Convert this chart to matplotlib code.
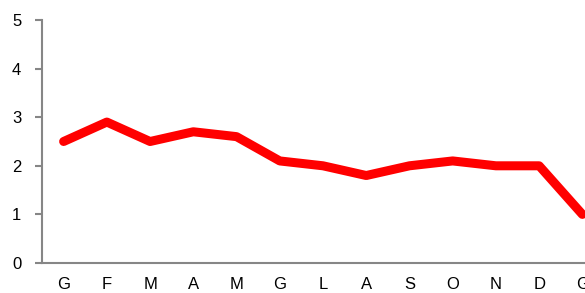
import matplotlib.pyplot as plt

# months (Italian initials), last one is next January
months = ['G', 'F', 'M', 'A', 'M', 'G', 'L', 'A', 'S', 'O', 'N', 'D', 'G']
values = [2.5, 2.9, 2.5, 2.7, 2.6, 2.1, 2.0, 1.8, 2.0, 2.1, 2.0, 2.0, 1.0]
y_ticks = [0, 1, 2, 3, 4, 5]

plt.rcParams['font.family'] = ['Liberation Sans', 'DejaVu Sans']

fig = plt.figure(figsize=(5.85, 2.93), dpi=100)
# chart is cut on the right side, so the axes goes past the figure edge
ax = fig.add_axes([42 / 585, 30 / 293, 562 / 585, 243 / 293])

x = list(range(len(months)))
ax.plot(x, values, color='#ff0000', linewidth=6.5, solid_capstyle='round',
        solid_joinstyle='round', clip_on=False)

ax.set_xlim(-0.5, len(months) - 0.5)
ax.set_ylim(0, 5)
ax.set_yticks(y_ticks)
ax.set_xticks(x)
ax.set_xticklabels(months)

for side in ['top', 'right']:
    ax.spines[side].set_visible(False)
for side in ['left', 'bottom']:
    ax.spines[side].set_color('#868686')
    ax.spines[side].set_linewidth(1.5)

ax.tick_params(axis='y', length=5, width=1.5, color='#868686', labelsize=12, pad=10)
ax.tick_params(axis='x', length=0, labelsize=12, pad=10)

fig.savefig('out.png', dpi=100)
